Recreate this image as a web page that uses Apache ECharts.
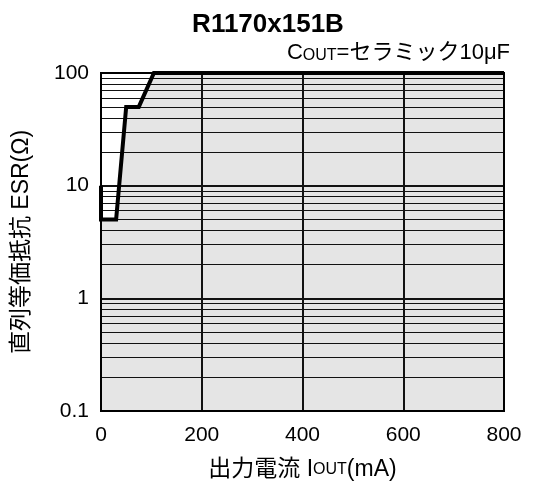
<!DOCTYPE html>
<html><head><meta charset="utf-8">
<script src="https://cdn.jsdelivr.net/npm/echarts@6/dist/echarts.min.js"></script>
<style>html,body{margin:0;padding:0;background:#fff}#c{width:536px;height:488px}</style>
</head><body><div id="c"></div>
<script>
// ---- data ----
const curveX = [0, 0, 30, 50, 75, 105, 800];
const curveY = [10, 5, 5, 50, 50, 100, 100];
const xTicks = [0, 200, 400, 600, 800];
const yTicks = [0.1, 1, 10, 100];
const yMinorGrid = [0.2,0.3,0.4,0.5,0.6,0.7,0.8,0.9, 2,3,4,5,6,7,8,9, 20,30,40,50,60,70,80,90];
const yMajorGrid = [1, 10];
const xGrid = [200, 400, 600];
const titleText = 'R1170x151B';

const FONT = "'Liberation Sans','Noto Sans CJK JP',sans-serif";
const curveData = curveX.map((x, i) => [x, curveY[i]]);
const gridLines = [];
yMinorGrid.forEach(v => gridLines.push({yAxis: v, lineStyle: {width: 1.2}}));
yMajorGrid.forEach(v => gridLines.push({yAxis: v, lineStyle: {width: 2}}));
xGrid.forEach(v => gridLines.push({xAxis: v, lineStyle: {width: 2}}));

const chart = echarts.init(document.getElementById('c'));
chart.setOption({
  backgroundColor: '#fff',
  animation: false,
  title: [
    {text: titleText, left: 'center', top: 7,
     textStyle: {fontFamily: FONT, fontWeight: 'bold', fontSize: 26, color: '#000'}},
    {text: '{a|C}{b|OUT}{a|=セラミック10μF}', right: 21, top: 37,
     textStyle: {fontWeight: 'normal', rich: {
       a: {fontFamily: FONT, fontSize: 22, fontWeight: 'normal', color: '#000'},
       b: {fontFamily: FONT, fontSize: 16, fontWeight: 'normal', color: '#000', verticalAlign: 'bottom'}
     }}}
  ],
  grid: {left: 101, right: 32, top: 73, bottom: 77, show: true, z: 6,
         borderColor: '#000', borderWidth: 2, backgroundColor: 'transparent'},
  xAxis: {
    type: 'value', min: 0, max: 800, interval: 200,
    name: '{a|出力電流 I}{b|OUT}{a|(mA)}', nameLocation: 'middle', nameGap: 47,
    nameTextStyle: {rich: {
      a: {fontFamily: FONT, fontSize: 23, color: '#000'},
      b: {fontFamily: FONT, fontSize: 16, color: '#000'}
    }},
    axisLine: {show: false}, axisTick: {show: false}, splitLine: {show: false},
    axisLabel: {fontFamily: FONT, fontSize: 21, color: '#000', margin: 14,
      formatter: v => xTicks.includes(v) ? String(v) : ''}
  },
  yAxis: {
    type: 'log', min: 0.1, max: 100, logBase: 10,
    name: '直列等価抵抗 ESR(Ω)', nameLocation: 'middle', nameGap: 68, nameRotate: 90,
    nameTextStyle: {fontFamily: FONT, fontSize: 23, color: '#000'},
    axisLine: {show: false}, axisTick: {show: false}, splitLine: {show: false},
    axisLabel: {fontFamily: FONT, fontSize: 21, color: '#000', margin: 12,
      formatter: v => { const t = yTicks.find(k => Math.abs(k - v) < 1e-9); return t === undefined ? '' : String(t); }}
  },
  series: [
    {type: 'line', data: curveData, z: 1, symbol: 'none', silent: true,
     lineStyle: {width: 0}, areaStyle: {color: '#e5e5e5', opacity: 1, origin: 'start'}},
    {type: 'line', data: [], z: 3, silent: true,
     markLine: {silent: true, symbol: ['none', 'none'], label: {show: false},
       lineStyle: {color: '#111', type: 'solid'}, data: gridLines}},
    {type: 'line', data: curveData, z: 8, symbol: 'none', silent: true,
     lineStyle: {color: '#000', width: 4, join: 'miter'}}
  ]
});
</script></body></html>
